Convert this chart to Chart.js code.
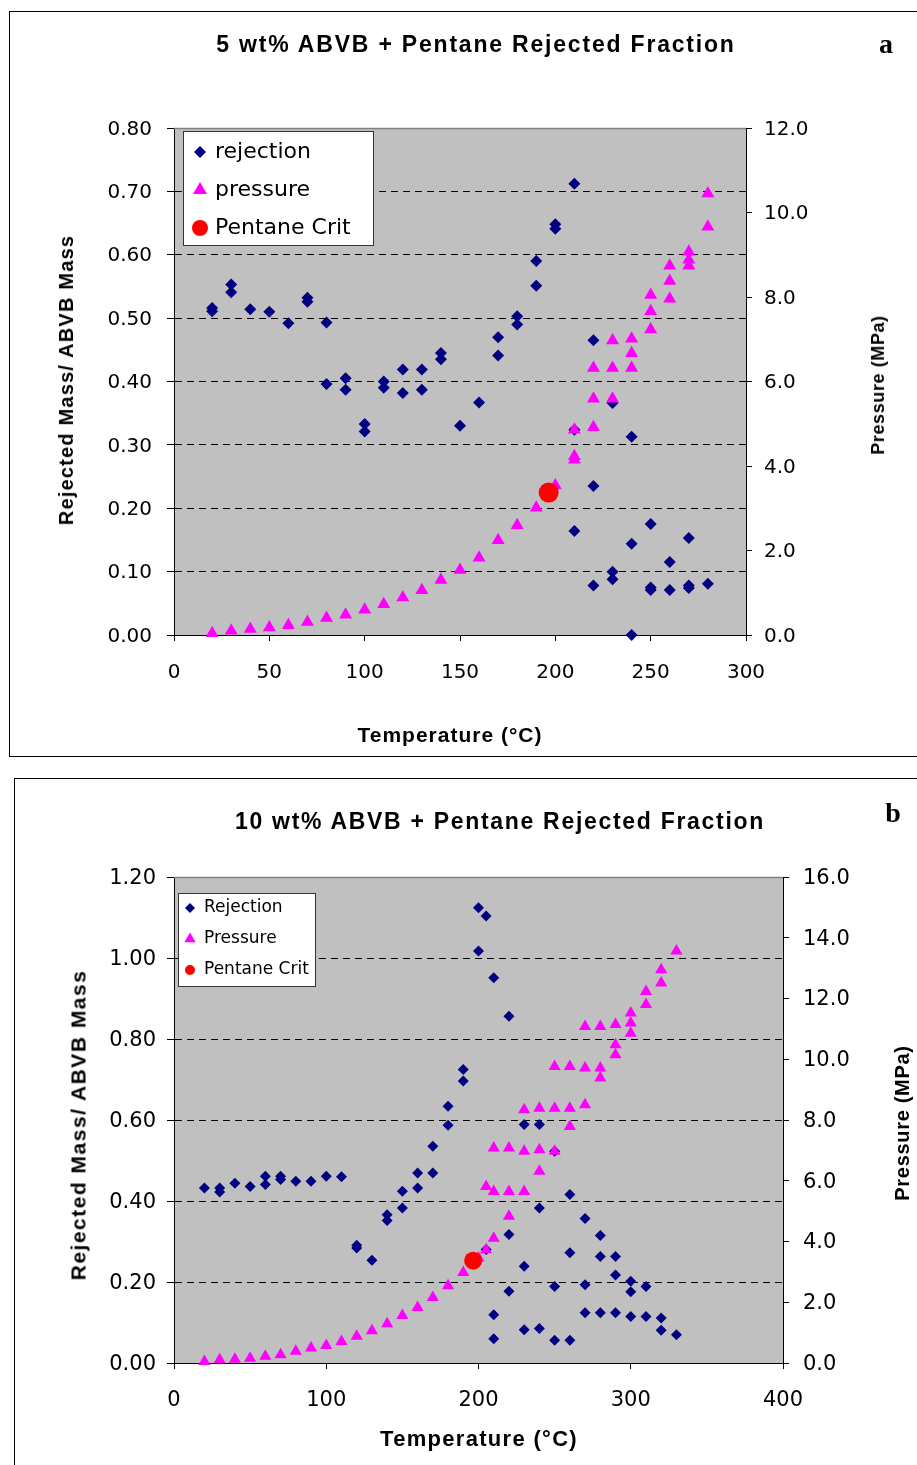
<!DOCTYPE html>
<html>
<head>
<meta charset="utf-8">
<title>ABVB + Pentane Rejected Fraction</title>
<script src="https://cdn.jsdelivr.net/npm/chart.js@4/dist/chart.umd.min.js"></script>
<style>
  html, body { margin: 0; padding: 0; background: #fff; overflow: hidden; }
  #page { position: relative; width: 917px; height: 1465px; overflow: hidden; background: #fff; }
  .frame { position: absolute; border: 1px solid #000; box-sizing: border-box; }
  canvas { position: absolute; left: 0; }
  .t { position: absolute; white-space: nowrap; line-height: 1; color: #000;
       font-family: "Liberation Sans", Arial, sans-serif; font-weight: bold;
       transform: translate(-50%, -50%); }
  .rot { transform: translate(-50%, -50%) rotate(-90deg); }
  .tag { font-family: "Liberation Serif", "Times New Roman", serif; font-size: 28px; }
</style>
</head>
<body>
<div id="page">
  <div class="frame" style="left:9px;top:11px;width:940px;height:746px"></div>
  <div class="frame" style="left:14px;top:778px;width:940px;height:720px"></div>

  <canvas id="chartA" width="917" height="760" style="top:0"></canvas>
  <canvas id="chartB" width="917" height="700" style="top:765px"></canvas>

  <div class="t" style="left:476px;top:44px;font-size:23px;letter-spacing:1.8px">5 wt% ABVB + Pentane Rejected Fraction</div>
  <div class="t tag" style="left:886px;top:44px">a</div>
  <div class="t rot" style="left:66px;top:380px;font-size:20px;letter-spacing:1.2px">Rejected Mass/ ABVB Mass</div>
  <div class="t rot" style="left:878px;top:385px;font-size:18px;letter-spacing:0.6px">Pressure (MPa)</div>
  <div class="t" style="left:450px;top:734px;font-size:21px;letter-spacing:1px">Temperature (°C)</div>

  <div class="t" style="left:500px;top:821px;font-size:23px;letter-spacing:1.7px">10 wt% ABVB + Pentane Rejected Fraction</div>
  <div class="t tag" style="left:893px;top:813px">b</div>
  <div class="t rot" style="left:78px;top:1125px;font-size:21px;letter-spacing:1.5px">Rejected Mass/ ABVB Mass</div>
  <div class="t rot" style="left:902px;top:1123px;font-size:20px;letter-spacing:0.7px">Pressure (MPa)</div>
  <div class="t" style="left:479px;top:1439px;font-size:22px;letter-spacing:1.3px">Temperature (°C)</div>
</div>

<script>
// ---- Panel a: 5 wt% ABVB ----
const aRejT = [20,20,30,30,40,50,60,70,70,80,80,90,90,100,100,110,110,120,120,130,130,140,140,150,160,170,170,180,180,190,190,200,200,210,210,210,220,220,220,230,230,230,240,240,240,250,250,250,260,260,270,270,270,280];
const aRejV = [0.516,0.511,0.553,0.541,0.514,0.510,0.492,0.532,0.526,0.493,0.396,0.405,0.387,0.333,0.321,0.400,0.390,0.419,0.382,0.419,0.387,0.445,0.435,0.330,0.367,0.470,0.441,0.503,0.490,0.590,0.551,0.648,0.641,0.712,0.324,0.164,0.465,0.235,0.078,0.366,0.100,0.088,0.313,0.144,0.000,0.175,0.075,0.071,0.115,0.071,0.153,0.078,0.074,0.081];
const aPresT = [20,30,40,50,60,70,80,90,100,110,120,130,140,150,160,170,180,190,200,210,210,210,220,220,220,230,230,230,240,240,240,250,250,250,260,260,260,270,270,270,280,280];
const aPresP = [0.04,0.10,0.14,0.18,0.23,0.31,0.40,0.48,0.60,0.73,0.89,1.06,1.30,1.54,1.83,2.24,2.60,3.01,3.54,4.86,4.23,4.15,4.92,5.59,6.32,5.59,6.32,6.97,6.32,6.67,7.01,7.23,7.66,8.05,7.96,8.38,8.74,8.74,8.88,9.07,9.66,10.45];
const aCritT = [196.5];
const aCritP = [3.37];
const aXTicks = [0,50,100,150,200,250,300];
const aYTicks = [0,0.1,0.2,0.3,0.4,0.5,0.6,0.7,0.8];
const aY2Ticks = [0,2,4,6,8,10,12];

// ---- Panel b: 10 wt% ABVB ----
const bRejT = [20,30,30,40,50,60,60,70,70,80,90,100,110,120,120,130,140,140,150,150,160,160,170,170,180,180,190,190,200,200,205,205,210,210,210,220,220,220,230,230,230,240,240,240,250,250,250,260,260,260,270,270,270,280,280,280,290,290,290,300,300,300,310,310,320,320,330];
const bRejV = [0.432,0.432,0.422,0.444,0.436,0.461,0.441,0.461,0.453,0.449,0.449,0.461,0.460,0.291,0.284,0.254,0.366,0.352,0.424,0.383,0.469,0.432,0.535,0.469,0.634,0.587,0.725,0.696,1.124,1.017,1.104,0.280,0.951,0.119,0.060,0.856,0.317,0.177,0.589,0.239,0.082,0.589,0.383,0.085,0.523,0.189,0.056,0.416,0.272,0.056,0.357,0.193,0.124,0.315,0.263,0.124,0.263,0.217,0.124,0.202,0.176,0.115,0.189,0.115,0.111,0.081,0.070];
const bPresT = [20,30,40,50,60,70,80,90,100,110,120,130,140,150,160,170,180,190,200,205,205,210,210,210,220,220,220,230,230,230,240,240,240,250,250,250,260,260,260,270,270,270,280,280,280,290,290,290,300,300,300,310,310,320,320,330];
const bPresP = [0.05,0.11,0.12,0.16,0.22,0.27,0.39,0.49,0.58,0.71,0.88,1.06,1.29,1.56,1.83,2.16,2.54,2.98,3.46,3.73,5.81,4.11,5.65,7.08,4.83,5.65,7.08,5.65,6.97,8.34,6.31,7.02,8.39,6.97,8.39,9.76,7.79,8.39,9.76,8.50,9.71,11.08,9.38,9.71,11.08,10.15,10.48,11.14,10.86,11.19,11.52,11.80,12.23,12.51,12.95,13.56];
const bCritT = [196.5];
const bCritP = [3.37];
const bXTicks = [0,100,200,300,400];
const bYTicks = [0,0.2,0.4,0.6,0.8,1.0,1.2];
const bY2Ticks = [0,2,4,6,8,10,12,14,16];

const NAVY = '#000080', MAGENTA = '#FF00FF', RED = '#FF0000';

Chart.defaults.font.family = '"DejaVu Sans", "Liberation Sans", sans-serif';
Chart.defaults.color = '#000';

const pairs = (xs, ys) => xs.map((x, i) => ({ x: x, y: ys[i] }));

// grey plot area with a grey top edge; axes are drawn by the scales
const plotFrame = {
  id: 'plotFrame',
  beforeDraw(chart) {
    const a = chart.chartArea, ctx = chart.ctx;
    ctx.save();
    ctx.fillStyle = '#C0C0C0';
    ctx.fillRect(a.left, a.top, a.right - a.left, a.bottom - a.top);
    ctx.restore();
  },
  beforeDatasetsDraw(chart) {
    const a = chart.chartArea, ctx = chart.ctx;
    ctx.save();
    ctx.strokeStyle = '#808080';
    ctx.lineWidth = 1.5;
    ctx.beginPath();
    ctx.moveTo(a.left, a.top + 0.5);
    ctx.lineTo(a.right, a.top + 0.5);
    ctx.stroke();
    ctx.restore();
  }
};

// boxed legend inside the plot area
const boxLegend = {
  id: 'boxLegend',
  afterDatasetsDraw(chart, args, o) {
    const ctx = chart.ctx;
    ctx.save();
    ctx.fillStyle = '#fff';
    ctx.fillRect(o.left, o.top, o.width, o.height);
    ctx.strokeStyle = '#333';
    ctx.lineWidth = 1;
    ctx.strokeRect(o.left + 0.5, o.top + 0.5, o.width, o.height);
    ctx.font = o.font;
    ctx.textBaseline = 'middle';
    ctx.textAlign = 'left';
    chart.data.datasets.forEach((ds, i) => {
      const y = o.top + o.firstRow + i * o.rowGap;
      ctx.fillStyle = ds.pointBackgroundColor;
      Chart.helpers.drawPoint(ctx, { pointStyle: ds.pointStyle, radius: o.radii[i], rotation: 0, borderWidth: 0 }, o.markerX, y);
      ctx.fillStyle = '#000';
      ctx.fillText(ds.label, o.textX, y);
    });
    ctx.restore();
  }
};

function fixedTicks(list) {
  return (scale) => { scale.ticks = list.map(v => ({ value: v })); };
}

function buildPanel(id, p) {
  const yFirst = p.yTicks[0], yLast = p.yTicks[p.yTicks.length - 1];
  return new Chart(document.getElementById(id), {
    type: 'scatter',
    data: {
      datasets: [
        { label: p.names[0], data: pairs(p.rejT, p.rejV), yAxisID: 'y', order: 3,
          pointStyle: 'rectRot', pointRadius: p.rDiamond, pointBorderWidth: 0,
          pointBackgroundColor: NAVY, backgroundColor: NAVY, borderColor: NAVY, showLine: false, clip: false },
        { label: p.names[1], data: pairs(p.presT, p.presP), yAxisID: 'y2', order: 2,
          pointStyle: 'triangle', pointRadius: p.rTriangle, pointBorderWidth: 0,
          pointBackgroundColor: MAGENTA, backgroundColor: MAGENTA, borderColor: MAGENTA, showLine: false, clip: false },
        { label: p.names[2], data: pairs(p.critT, p.critP), yAxisID: 'y2', order: 1,
          pointStyle: 'circle', pointRadius: p.rCircle, pointBorderWidth: 0,
          pointBackgroundColor: RED, backgroundColor: RED, borderColor: RED, showLine: false, clip: false }
      ]
    },
    options: {
      responsive: false,
      animation: false,
      devicePixelRatio: 1,
      events: [],
      layout: { padding: { top: p.top, left: 0, right: 0, bottom: 0 } },
      plugins: {
        legend: { display: false },
        tooltip: { enabled: false },
        boxLegend: p.legend
      },
      scales: {
        x: {
          type: 'linear', position: 'bottom',
          min: p.xTicks[0], max: p.xTicks[p.xTicks.length - 1],
          afterBuildTicks: fixedTicks(p.xTicks),
          afterFit: (s) => { s.height = p.xHeight; },
          grid: { drawOnChartArea: false, drawTicks: true, tickLength: 6, tickColor: '#000', color: '#000' },
          border: { display: true, color: '#000', width: 1 },
          ticks: { autoSkip: false, maxRotation: 0, padding: p.xPad, font: { size: p.tickSize }, color: '#000',
                   callback: (v) => String(v) }
        },
        y: {
          type: 'linear', position: 'left',
          min: yFirst, max: yLast,
          afterBuildTicks: fixedTicks(p.yTicks),
          afterFit: (s) => { s.width = p.leftWidth; },
          grid: { drawOnChartArea: true, drawTicks: true, tickLength: 7, tickColor: '#000', lineWidth: 1,
                  color: (c) => (c.index > 0 && c.index < p.yTicks.length - 1) ? '#000' : 'rgba(0,0,0,0)' },
          border: { display: true, color: '#000', width: 1, dash: [7, 5] },
          ticks: { padding: p.yPad, labelOffset: 1.5, font: { size: p.tickSize }, color: '#000',
                   callback: (v) => Number(v).toFixed(2) }
        },
        y2: {
          type: 'linear', position: 'right',
          min: p.y2Ticks[0], max: p.y2Ticks[p.y2Ticks.length - 1],
          afterBuildTicks: fixedTicks(p.y2Ticks),
          afterFit: (s) => { s.width = p.rightWidth; },
          grid: { drawOnChartArea: false, drawTicks: true, tickLength: 6, tickColor: '#000', color: '#000' },
          border: { display: true, color: '#000', width: 1 },
          ticks: { padding: p.y2Pad, labelOffset: 1.5, font: { size: p.tickSize }, color: '#000',
                   callback: (v) => Number(v).toFixed(1) }
        }
      }
    },
    plugins: [plotFrame, boxLegend]
  });
}

buildPanel('chartA', {
  rejT: aRejT, rejV: aRejV, presT: aPresT, presP: aPresP, critT: aCritT, critP: aCritP,
  xTicks: aXTicks, yTicks: aYTicks, y2Ticks: aY2Ticks,
  names: ['rejection', 'pressure', 'Pentane Crit'],
  top: 128, leftWidth: 174, rightWidth: 171, xHeight: 125,
  tickSize: 20, yPad: 15, y2Pad: 12, xPad: 20,
  rDiamond: 6, rTriangle: 7.5, rCircle: 10,
  legend: { left: 183, top: 131, width: 190, height: 114, firstRow: 21, rowGap: 38,
            markerX: 200, textX: 215, font: '22px "DejaVu Sans", sans-serif', radii: [6, 8, 8] }
});

buildPanel('chartB', {
  rejT: bRejT, rejV: bRejV, presT: bPresT, presP: bPresP, critT: bCritT, critP: bCritP,
  xTicks: bXTicks, yTicks: bYTicks, y2Ticks: bY2Ticks,
  names: ['Rejection', 'Pressure', 'Pentane Crit'],
  top: 112, leftWidth: 174, rightWidth: 134, xHeight: 102,
  tickSize: 21, yPad: 11, y2Pad: 14, xPad: 19,
  rDiamond: 5.5, rTriangle: 7, rCircle: 9,
  legend: { left: 178, top: 128, width: 137, height: 93, firstRow: 15, rowGap: 31,
            markerX: 190, textX: 204, font: '17px "DejaVu Sans", sans-serif', radii: [5, 6.5, 5] }
});
</script>
</body>
</html>
